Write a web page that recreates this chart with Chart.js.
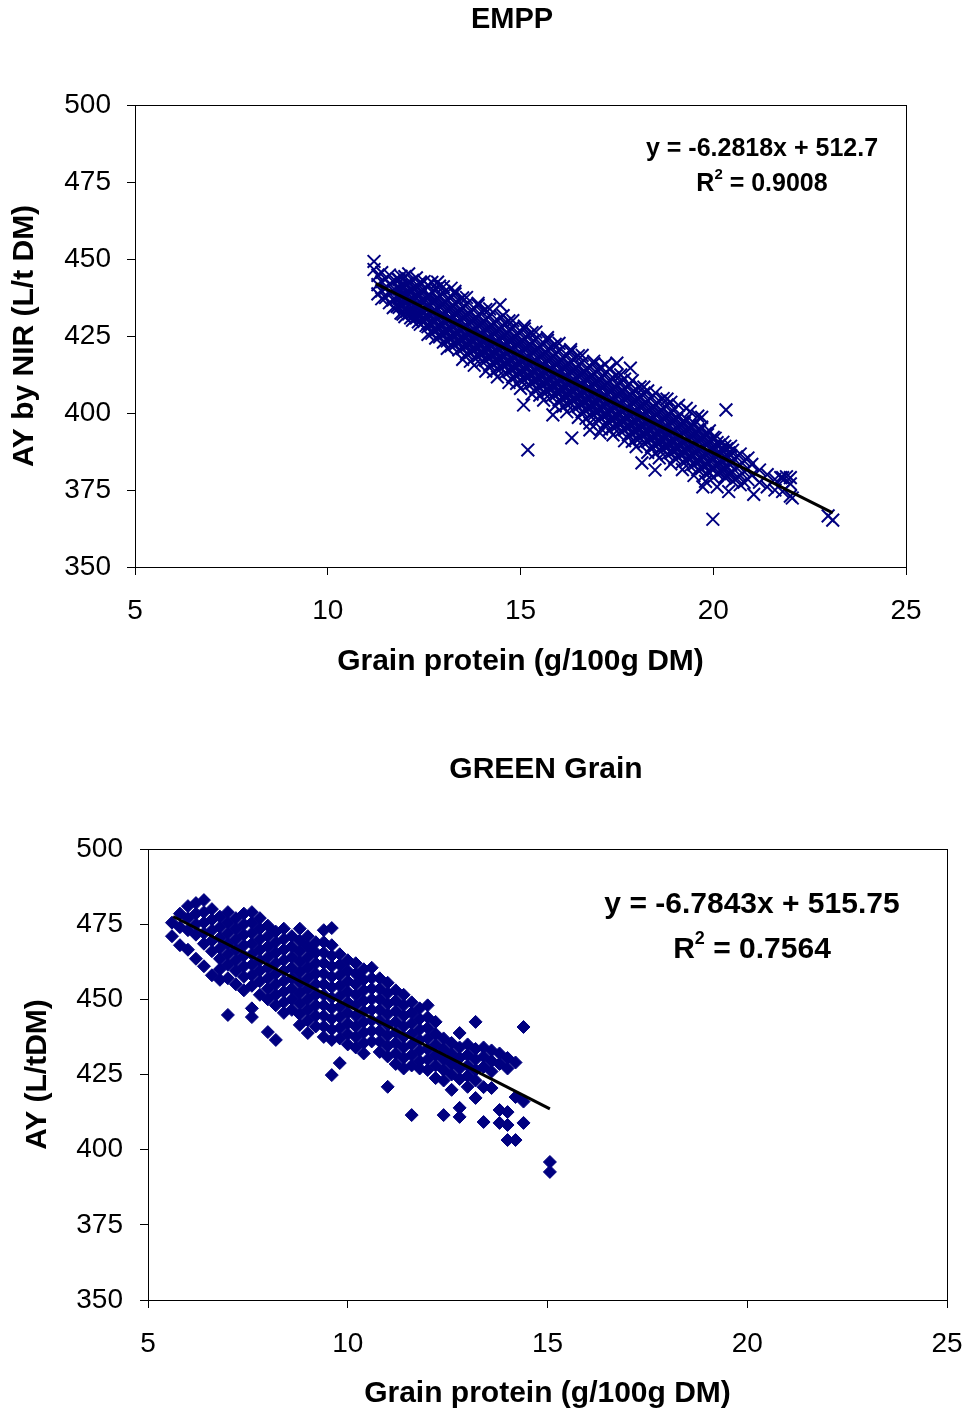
<!DOCTYPE html>
<html><head><meta charset="utf-8">
<script src="https://cdn.jsdelivr.net/npm/chart.js@4.4.0/dist/chart.umd.min.js"></script>
<style>
html,body{margin:0;padding:0;background:#fff;}
#wrap{position:relative;width:970px;height:1414px;overflow:hidden;}
#c1{position:absolute;left:0;top:0;}
#c2{position:absolute;left:0;top:700px;}
</style></head><body>
<div id="wrap"><canvas id="c1" width="970" height="700"></canvas><canvas id="c2" width="970" height="714"></canvas></div>
<script>
// ---------- EMPP data ----------
const emppTitle = 'EMPP';
const emppSlope = -6.2818, emppIntercept = 512.7, emppR2 = '0.9008';
const emppTrendX = [11.25, 23.1];
const emppProtein = [11.2,11.3,11.4,11.5,11.6,11.7,11.8,11.9,12.0,12.1,12.2,12.3,12.4,12.5,12.6,12.7,12.8,12.9,
13.0,13.1,13.2,13.3,13.4,13.5,13.6,13.7,13.8,13.9,14.0,14.1,14.2,14.3,14.4,14.5,14.6,14.7,14.8,14.9,
15.0,15.1,15.2,15.3,15.4,15.5,15.6,15.7,15.8,15.9,16.0,16.1,16.2,16.3,16.4,16.5,16.6,16.7,16.8,16.9,
17.0,17.1,17.2,17.3,17.4,17.5,17.6,17.7,17.8,17.9,18.0,18.1,18.2,18.3,18.4,18.5,18.6,18.7,18.8,18.9,
19.0,19.1,19.2,19.3,19.4,19.5,19.6,19.7,19.8,19.9,20.0,20.1,20.2,20.3,20.4,20.5,20.6,20.7,20.8,20.9,
21.0,21.2,21.4,21.6,21.8,22.0];
const emppAY = [
[449.2,446.6],[444.7,441.7,438.7],[445.6,442.6,439.6,437.1],[443.5,440.5,437.5],[444.8,441.8,438.8,435.8],
[442.7,439.7,436.7,434.2],[443.6,440.6,437.6,434.6],[444.4,441.4,438.4,435.4,432.4],[444.3,440.8,437.3,433.8,431.3],
[445.2,442.2,438.7,435.2,432.2],[443.1,439.6,436.1,432.6,430.1],[443.9,440.9,437.4,433.9,430.9],
[442.5,441.8,438.3,434.8,431.3,428.8],[442.7,439.7,436.2,432.7,429.7],[441.5,438.0,434.5,431.0,428.0,425.5],
[442.4,439.4,435.9,432.4,428.9,425.9],[440.3,436.8,433.3,429.8,426.8,424.3],[441.2,438.2,434.7,431.2,427.7,424.7],
[439.0,435.5,432.0,428.5,425.5,423.0],[436.9,433.4,429.9,426.4,423.4,421.0],[437.8,434.3,430.8,427.3,424.3,421.8],
[438.7,435.7,432.2,428.7,425.2,422.2],[436.5,433.0,429.5,426.0,423.0,420.5],[437.4,434.4,430.9,427.4,423.9,420.9],
[435.3,431.8,428.3,424.8,421.8,419.3],[433.1,429.6,426.1,422.6,419.6,416.8],[434.0,430.5,427.0,423.5,420.5,418.0],
[434.9,431.9,428.4,424.9,421.4,418.4],[432.8,429.3,425.8,422.3,419.3,416.8],[433.6,430.6,427.1,423.6,420.1,417.1],
[431.5,428.0,424.5,421.0,418.0,415.5],[429.4,425.9,422.4,418.9,415.9,413.4],[430.2,426.7,423.2,419.7,416.7,414.2],
[431.1,428.1,424.6,421.1,417.6,414.6],[429.0,425.5,422.0,418.5,415.5,413.0],[429.9,426.9,423.4,419.9,416.4,413.4],
[427.7,424.2,420.7,417.2,414.2,411.7],[425.6,422.1,418.6,415.1,412.1,409.6],[426.5,423.0,419.5,416.0,413.0,410.5],
[427.3,424.3,420.8,417.3,413.8,410.8],[425.2,421.7,418.2,414.7,411.7,409.2],[426.1,423.1,419.6,416.1,412.6,409.6],
[424.0,420.5,417.0,413.5,410.5,408.0],[421.8,418.3,414.8,411.3,408.3,405.8],[422.7,419.2,415.7,412.2,409.2,406.7],
[423.6,420.6,417.1,413.6,410.1,407.1],[421.4,417.9,414.4,410.9,407.9,405.4],[422.3,419.3,415.8,412.3,408.8,405.8],
[420.2,416.7,413.2,409.7,406.7,404.2],[418.1,414.6,411.1,407.6,404.6,402.1],[418.9,415.4,411.9,408.4,405.4,402.9],
[419.8,416.8,413.3,409.8,406.3,403.3],[417.7,414.2,410.7,407.2,404.2,401.7],[418.6,415.6,412.1,408.6,405.1,402.1],
[416.4,412.9,409.4,405.9,402.9,400.4],[414.3,410.8,407.3,403.8,400.8,398.3],[415.2,411.7,408.2,404.7,401.7,399.2],
[416.0,413.0,409.5,406.0,402.5,399.5],[413.9,410.4,406.9,403.4,400.4,397.9],[414.8,411.8,408.3,404.8,401.3,398.3],
[412.7,409.2,405.7,402.2,399.2,396.7],[410.5,407.0,403.5,400.0,397.0,394.5],[411.4,407.9,404.4,400.9,397.9,395.4],
[412.3,409.3,405.8,402.3,398.8,395.8],[410.1,406.6,403.1,399.6,396.6,394.1],[411.0,408.0,404.5,401.0,397.5,394.5],
[408.9,405.4,401.9,398.4,395.4,392.9],[406.8,403.3,399.8,396.3,393.3,390.8],[407.6,404.1,400.6,397.1,394.1,391.6],
[408.5,405.5,402.0,398.5,395.0,392.0],[406.4,402.9,399.4,395.9,392.9,390.4],[407.2,404.2,400.7,397.2,393.7,390.7],
[405.1,401.6,398.1,394.6,391.6,389.1],[403.0,399.5,396.0,392.5,389.5,387.0],[403.9,400.4,396.9,393.4,390.4,387.9],
[404.7,401.7,398.2,394.7,391.2,388.2],[402.6,399.1,395.6,392.1,389.1,386.6],[403.5,400.5,397.0,393.5,390.0,387.0],
[401.3,397.8,394.3,390.8,387.8,385.3],[399.2,395.7,392.2,388.7,385.7],[397.1,393.6,390.1,386.6,384.1],
[398.0,394.5,391.0,387.5,384.5],[395.8,392.3,388.8,385.3,382.8],[396.7,393.2,389.7,386.2,383.2],
[394.6,391.1,387.6,384.1,381.6],[395.4,391.9,388.4,384.9,381.9],[393.3,389.8,386.3,382.8,380.3],
[394.2,390.7,387.2,383.7,380.7],[392.1,388.6,385.1,381.6,379.1],[390.4,386.9,383.4,380.4],[388.3,384.8,381.3],
[389.2,385.7,382.2,379.2],[387.1,383.6,380.1],[387.9,384.4,380.9,377.9],[385.8,382.3,378.8],[386.7,383.2,379.7,376.7],
[384.5,381.0,377.5],[385.4,381.9,378.4],[383.3,379.8],[381.5,377.5],[380.0,376.0],[378.5,375.0],[379.0,374.5],[377.0,373.0,379.0]
];
// dense core of the EMPP cloud (half-step columns)
const emppCoreProtein = [11.85,11.95,12.05,12.15,12.25,12.35,12.45,12.55,12.65,12.75,12.85,12.95,
13.05,13.15,13.25,13.35,13.45,13.55,13.65,13.75,13.85,13.95,14.05,14.15,14.25,14.35,14.45,14.55,14.65,14.75,14.85,14.95,
15.05,15.15,15.25,15.35,15.45,15.55,15.65,15.75,15.85,15.95,16.05,16.15,16.25,16.35,16.45,16.55,16.65,16.75,16.85,16.95,
17.05,17.15,17.25,17.35,17.45,17.55,17.65,17.75,17.85,17.95,18.05,18.15,18.25,18.35,18.45,18.55,18.65,18.75,18.85,18.95,
19.05,19.15,19.25,19.35,19.45,19.55,19.65,19.75,19.85,19.95,20.05,20.15,20.25,20.35,20.45];
const emppCoreAY = [
[443.3,440.3,437.3,434.3],[441.1,438.1,435.1,432.1],[442.0,439.0,436.0,433.0],[439.9,436.9,433.9,430.9],
[440.8,437.8,434.8,431.8],[438.6,435.6,432.6,429.6],[439.5,436.5,433.5,430.5],[437.4,434.4,431.4,428.4],
[438.2,435.2,432.2,429.2],[436.1,433.1,430.1,427.1],[437.0,434.0,431.0,428.0],[434.9,431.9,428.9,425.9],
[435.7,432.7,429.7,426.7],[433.6,430.6,427.6,424.6],[434.5,431.5,428.5,425.5],[432.4,429.4,426.4,423.4],
[433.2,430.2,427.2,424.2],[431.1,428.1,425.1,422.1],[432.0,429.0,426.0,423.0],[429.8,426.8,423.8,420.8],
[430.7,427.7,424.7,421.7],[428.6,425.6,422.6,419.6],[429.5,426.5,423.5,420.5],[427.3,424.3,421.3,418.3],
[428.2,425.2,422.2,419.2],[426.1,423.1,420.1,417.1],[426.9,423.9,420.9,417.9],[424.8,421.8,418.8,415.8],
[425.7,422.7,419.7,416.7],[423.6,420.6,417.6,414.6],[424.4,421.4,418.4,415.4],[422.3,419.3,416.3,413.3],
[423.2,420.2,417.2,414.2],[421.0,418.0,415.0,412.0],[421.9,418.9,415.9,412.9],[419.8,416.8,413.8,410.8],
[420.7,417.7,414.7,411.7],[418.5,415.5,412.5,409.5],[419.4,416.4,413.4,410.4],[417.3,414.3,411.3,408.3],
[418.1,415.1,412.1,409.1],[416.0,413.0,410.0,407.0],[416.9,413.9,410.9,407.9],[414.8,411.8,408.8,405.8],
[415.6,412.6,409.6,406.6],[413.5,410.5,407.5,404.5],[414.4,411.4,408.4,405.4],[412.3,409.3,406.3,403.3],
[413.1,410.1,407.1,404.1],[411.0,408.0,405.0,402.0],[411.9,408.9,405.9,402.9],[409.7,406.7,403.7,400.7],
[410.6,407.6,404.6,401.6],[408.5,405.5,402.5,399.5],[409.4,406.4,403.4,400.4],[407.2,404.2,401.2,398.2],
[408.1,405.1,402.1,399.1],[406.0,403.0,400.0,397.0],[406.8,403.8,400.8,397.8],[404.7,401.7,398.7,395.7],
[405.6,402.6,399.6,396.6],[403.5,400.5,397.5,394.5],[404.3,401.3,398.3,395.3],[402.2,399.2,396.2,393.2],
[403.1,400.1,397.1,394.1],[400.9,397.9,394.9,391.9],[401.8,398.8,395.8,392.8],[399.7,396.7,393.7,390.7],
[400.6,397.6,394.6,391.6],[398.4,395.4,392.4,389.4],[399.3,396.3,393.3,390.3],[397.2,394.2,391.2,388.2],
[398.0,395.0,392.0,389.0],[395.9,392.9,389.9,386.9],[396.8,393.8,390.8,387.8],[394.7,391.7,388.7,385.7],
[395.5,392.5,389.5,386.5],[393.4,390.4,387.4,384.4],[394.3,391.3,388.3,385.3],[392.1,389.1,386.1,383.1],
[393.0,390.0,387.0,384.0],[390.9,387.9,384.9,381.9],[391.8,388.8,385.8,382.8],[389.6,386.6,383.6,380.6],
[390.5,387.5,384.5,381.5],[388.4,385.4,382.4,379.4],[389.2,386.2,383.2,380.2]
];
// ragged fringe above and below the EMPP band
const emppFringeX = [13.0,13.3,13.6,13.9,14.2,14.55,14.8,15.1,15.4,15.7,16.0,16.3,16.6,16.9,17.3,17.6,17.9,18.2,18.5,18.8,19.1,19.4,19.7,
13.5,13.8,14.1,14.4,14.7,15.0,15.3,15.6,15.9,16.2,16.5,16.8,17.1,17.4,17.7,18.0,18.3,18.6,18.9,19.2,19.5,19.8,20.1,20.4];
const emppFringeY = [441.0,439.5,437.5,435.6,433.8,431.6,430.0,428.2,426.3,424.5,422.6,420.6,418.7,416.8,414.3,412.4,410.5,408.4,406.5,404.5,402.5,400.5,398.6,
417.4,415.5,413.6,411.7,409.9,408.0,406.1,404.2,402.3,400.4,398.6,396.7,394.8,392.9,391.0,389.1,387.2,385.4,383.5,381.6,379.7,377.8,376.0,374.5];
const emppOutX = [14.47,15.19,15.08,16.33,15.84,16.8,17.06,18.15,18.49,19.73,21.05,22.05,19.99,22.98,23.1,20.33,17.5,17.85,17.2,19.3,19.6,21.75,21.9,13.2,12.85];
const emppOutY = [435.1,388.0,402.6,391.9,399.4,394.5,393.5,383.8,381.5,376.0,373.6,372.4,365.5,366.6,365.2,401.0,416.2,414.6,415.8,401.5,399.0,379.0,379.3,440.5,442.5];

// ---------- GREEN Grain data ----------
const greenTitle = 'GREEN Grain';
const greenSlope = -6.7843, greenIntercept = 515.75, greenR2 = '0.7564';
const greenTrendX = [5.63, 15.06];
const greenProtein = [5.6,5.8,6.0,6.2,6.4,6.6,6.8,7.0,7.2,7.4,7.6,7.8,8.0,8.2,8.4,8.6,8.8,9.0,9.2,9.4,9.6,9.8,
10.0,10.2,10.4,10.6,10.8,11.0,11.2,11.4,11.6,11.8,12.0,12.2,12.4,12.6,12.8,13.0,13.2,13.4,13.6,13.8,14.0,14.2,14.4,15.06];
const greenAY = [
[471.0,475.5],[478.5,474.0,468.0],[481.0,477.0,473.0,466.5],[482.0,478.5,475.0,471.5,463.5],
[483.0,479.0,475.5,472.0,468.5,461.0],[480.0,476.5,473.0,469.5,466.0,458.0],[477.5,474.0,470.5,467.0,463.5,460.0,456.5],
[479.0,475.5,472.0,468.5,465.0,461.5,457.0,444.8],[477.0,473.5,470.0,466.5,463.0,459.5,455.0],
[478.5,475.0,471.5,468.0,464.5,461.0,457.5,453.0],[479.0,475.5,472.0,468.5,465.0,461.5,458.0,454.5,447.0,444.1],
[477.0,473.5,470.0,466.5,463.0,459.5,456.0,451.5],[474.5,471.0,467.5,464.0,460.5,457.0,453.5,450.0,439.1],
[472.5,469.0,465.5,462.0,458.5,455.0,451.5,448.0,436.5],[473.5,470.0,466.5,463.0,459.5,456.0,452.5,449.0,445.5],
[471.0,467.5,464.0,460.5,457.0,453.5,450.0,446.5],[473.5,469.5,466.0,462.5,459.0,455.5,452.0,448.5,445.0,441.5],
[471.0,467.5,464.0,460.5,457.0,453.5,450.0,446.5,443.0,438.8],[469.0,465.5,462.0,458.5,455.0,451.5,448.0,444.5,441.0],
[473.0,469.0,465.5,462.0,458.5,455.0,451.5,448.0,444.5,441.0,437.5],
[473.7,468.0,464.5,461.0,457.5,454.0,450.5,447.0,443.5,440.0,436.5,424.8],
[465.0,461.5,458.0,454.5,451.0,447.5,444.0,440.5,437.0,428.8],[463.0,459.5,456.0,452.5,449.0,445.5,442.0,438.5,435.0],
[462.0,458.5,455.0,451.5,448.0,444.5,441.0,437.5,434.0],[460.0,456.5,453.0,449.5,446.0,442.5,439.0,435.5,432.0],
[460.5,457.0,453.5,450.0,446.5,443.0,439.5,436.0],[457.0,453.5,450.0,446.5,443.0,439.5,436.0,432.5],
[455.5,452.0,448.5,445.0,441.5,438.0,434.5,431.0,420.9],[453.0,449.5,446.0,442.5,439.0,435.5,432.0,428.5],
[451.5,448.0,444.5,441.0,437.5,434.0,430.5,427.0],[449.0,445.5,442.0,438.5,435.0,431.5,428.0,411.5],
[447.0,443.5,440.0,436.5,433.0,429.5,427.0],[448.0,444.0,440.5,437.0,433.5,430.0,426.5],
[442.5,438.5,435.0,431.5,428.0,423.8],[437.0,433.5,430.0,426.5,423.0,411.5],[435.5,432.0,428.5,425.0,419.9],
[438.8,434.0,430.5,427.0,423.5,413.9,410.9],[435.0,431.5,428.0,424.5,420.9],[442.5,433.5,430.0,426.5,423.0,417.2],
[434.0,431.0,427.5,420.8,409.2],[433.0,429.5,426.0,420.5],[432.0,428.5,413.2,408.9],[430.5,427.0,412.5,408.2,403.2],
[429.0,417.5,403.2],[440.8,416.0,408.9],[395.9,392.6]
];

const xAxisLabel = 'Grain protein (g/100g DM)';
const emppYLabel = 'AY by NIR (L/t DM)';
const greenYLabel = 'AY (L/tDM)';
const NAVY = '#000080';
const FONT = '"Liberation Sans", Arial, Helvetica, sans-serif';

function expand(xs, ys) {
  const out = [];
  xs.forEach((x, i) => ys[i].forEach(y => out.push({x: x, y: y})));
  return out;
}
function zipPts(xs, ys) { return xs.map((x, i) => ({x: x, y: ys[i]})); }
function trend(xs, m, b) { return xs.map(x => ({x: x, y: m * x + b})); }

function drawEq(ctx, cx, y1, y2, slope, intercept, r2, size) {
  ctx.save();
  ctx.fillStyle = '#000';
  ctx.textBaseline = 'middle';
  ctx.textAlign = 'center';
  ctx.font = 'bold ' + size + 'px ' + FONT;
  const sgn = intercept >= 0 ? ' + ' : ' - ';
  ctx.fillText('y = ' + slope + 'x' + sgn + Math.abs(intercept), cx, y1);
  const a = 'R', b = ' = ' + r2;
  const wa = ctx.measureText(a).width, wb = ctx.measureText(b).width;
  const ss = Math.round(size * 0.6);
  ctx.font = 'bold ' + ss + 'px ' + FONT;
  const ws = ctx.measureText('2').width;
  const total = wa + ws + wb;
  let x = cx - total / 2;
  ctx.textAlign = 'left';
  ctx.font = 'bold ' + size + 'px ' + FONT;
  ctx.fillText(a, x, y2); x += wa;
  ctx.font = 'bold ' + ss + 'px ' + FONT;
  ctx.fillText('2', x, y2 - size * 0.38); x += ws;
  ctx.font = 'bold ' + size + 'px ' + FONT;
  ctx.fillText(b, x, y2);
  ctx.restore();
}

function makeChart(id, c) {
  const deco = {
    id: 'deco' + id,
    afterDraw(chart) {
      const ctx = chart.ctx, a = chart.chartArea;
      ctx.save();
      ctx.strokeStyle = '#000'; ctx.lineWidth = 1;
      ctx.strokeRect(Math.round(a.left) + 0.5, Math.round(a.top) + 0.5, Math.round(a.right - a.left), Math.round(a.bottom - a.top));
      ctx.fillStyle = '#000';
      ctx.font = 'bold ' + c.titleSize + 'px ' + FONT;
      ctx.textAlign = 'center'; ctx.textBaseline = 'middle';
      ctx.fillText(c.title, c.titleX, c.titleY);
      ctx.restore();
      drawEq(ctx, c.eqX, c.eqY1, c.eqY2, c.slope, c.intercept, c.r2, c.eqSize);
    }
  };
  return new Chart(document.getElementById(id), {
    type: 'scatter',
    data: {
      datasets: [
        { type: 'line', data: c.trend, borderColor: '#000', borderWidth: 3, pointRadius: 0, fill: false, order: 0, tension: 0 },
        { data: c.points, pointStyle: c.style, pointRadius: c.radius, pointHoverRadius: c.radius,
          pointBorderColor: NAVY, pointBackgroundColor: NAVY, pointBorderWidth: c.bw, order: 1 }
      ]
    },
    options: {
      responsive: false, animation: false, devicePixelRatio: 1,
      layout: { padding: { left: 0, right: c.padRight, top: c.padTop, bottom: 0 } },
      plugins: { legend: { display: false }, tooltip: { enabled: false }, title: { display: false } },
      scales: {
        x: {
          type: 'linear', min: 5, max: 25,
          ticks: { stepSize: 5, color: '#000', font: { family: FONT, size: 28 }, padding: c.xTickPad, maxRotation: 0 },
          grid: { drawOnChartArea: false, tickLength: 8, color: '#000' },
          border: { color: '#000' },
          title: { display: true, text: xAxisLabel, color: '#000', font: { family: FONT, size: 30, weight: 'bold' }, padding: { top: 0, bottom: c.xTitlePad } },
          afterFit(s) { s.height = c.xH; s.paddingLeft = 0; s.paddingRight = 0; }
        },
        y: {
          type: 'linear', min: 350, max: 500,
          ticks: { stepSize: 25, color: '#000', font: { family: FONT, size: 28 }, padding: c.yTickPad },
          grid: { drawOnChartArea: false, tickLength: 8, color: '#000' },
          border: { color: '#000' },
          title: { display: true, text: c.yLabel, color: '#000', font: { family: FONT, size: 30, weight: 'bold' }, padding: { top: c.yTitlePad, bottom: 0 } },
          afterFit(s) { s.width = c.yW; s.paddingTop = 0; s.paddingBottom = 0; }
        }
      }
    },
    plugins: [deco]
  });
}

makeChart('c1', {
  title: emppTitle, titleX: 512, titleY: 20, titleSize: 29,
  points: expand(emppProtein, emppAY).concat(expand(emppCoreProtein, emppCoreAY))
    .concat(zipPts(emppFringeX, emppFringeY)).concat(zipPts(emppOutX, emppOutY)),
  trend: trend(emppTrendX, emppSlope, emppIntercept),
  style: 'crossRot', radius: 9, bw: 2,
  padRight: 64, padTop: 105, yW: 135, xH: 133,
  xTickPad: 19, yTickPad: 16, xTitlePad: 20, yTitlePad: 7,
  yLabel: emppYLabel,
  eqX: 762, eqY1: 149, eqY2: 184, slope: emppSlope, intercept: emppIntercept, r2: emppR2, eqSize: 25
});

makeChart('c2', {
  title: greenTitle, titleX: 546, titleY: 70, titleSize: 30,
  points: expand(greenProtein, greenAY),
  trend: trend(greenTrendX, greenSlope, greenIntercept),
  style: 'rectRot', radius: 6.5, bw: 1,
  padRight: 23, padTop: 149, yW: 148, xH: 114,
  xTickPad: 19, yTickPad: 17, xTitlePad: 2, yTitlePad: 20,
  yLabel: greenYLabel,
  eqX: 752, eqY1: 205, eqY2: 250, slope: greenSlope, intercept: greenIntercept, r2: greenR2, eqSize: 30
});
</script>
</body></html>
